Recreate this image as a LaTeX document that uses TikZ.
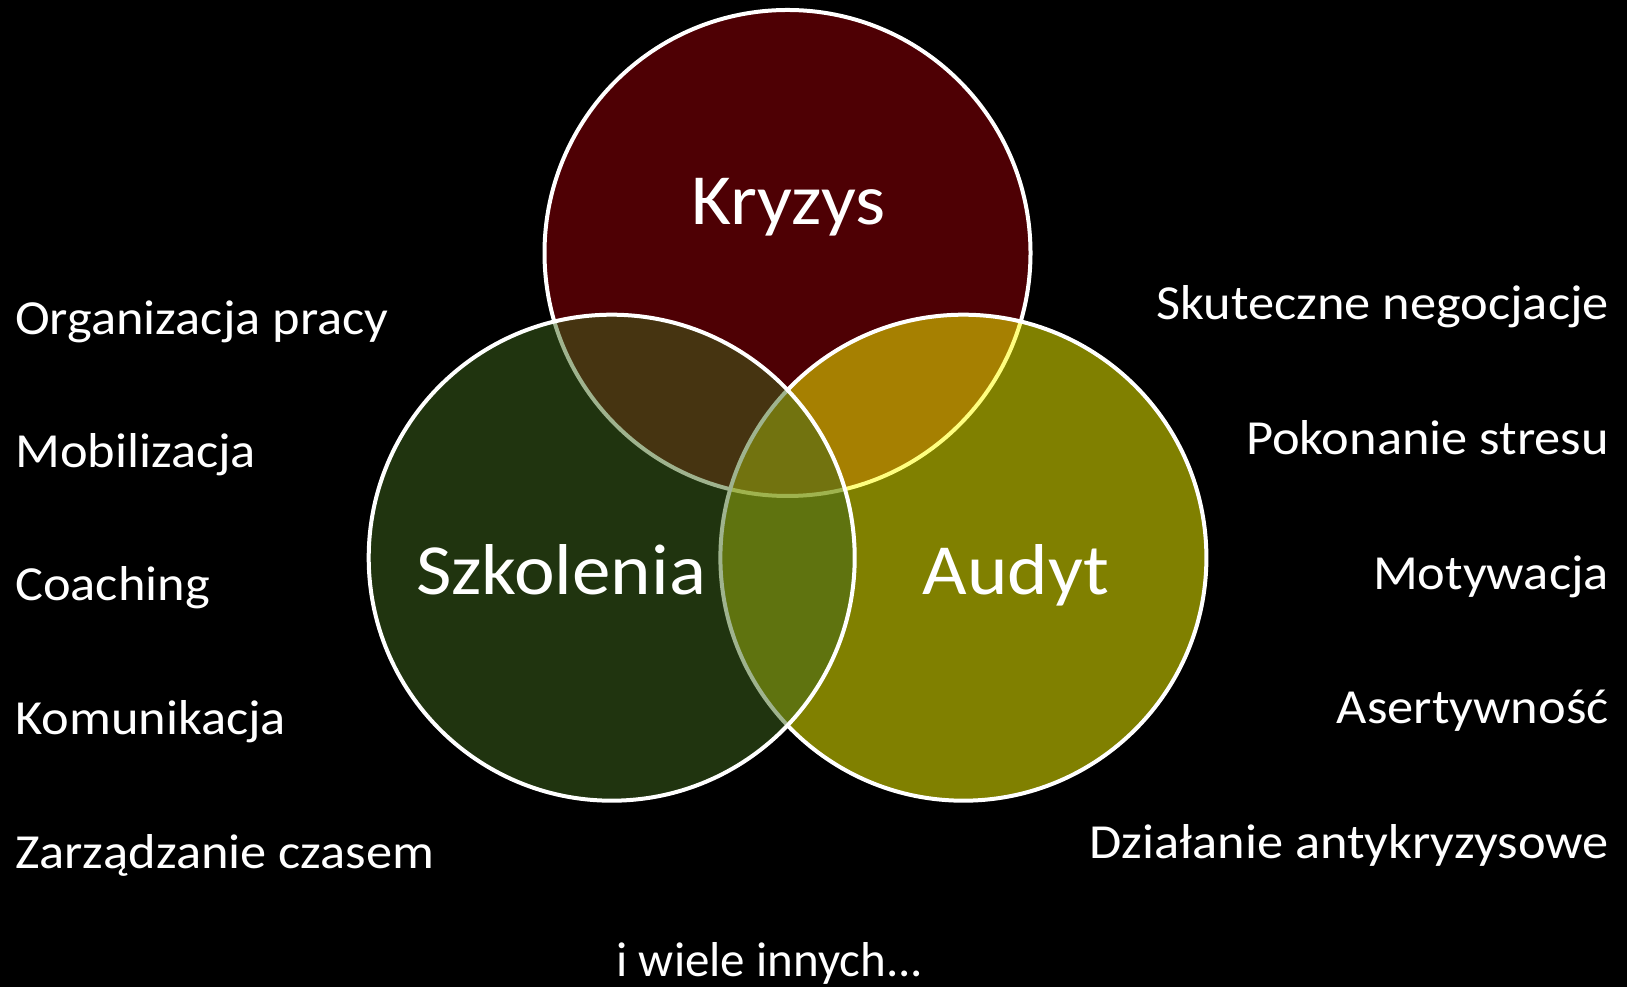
\documentclass[tikz,border=0pt]{standalone}
\usepackage{fontspec}
\setmainfont{Carlito}[FakeStretch=1.07]
\newfontfamily\plainfont{Carlito}
\definecolor{kryzysc}{RGB}{78,0,4}
\definecolor{audytc}{RGB}{255,255,0}
\definecolor{szkolc}{RGB}{64,104,30}
\begin{document}
\begin{tikzpicture}[x=1pt,y=1pt,
  venn/.style={circle, inner sep=0pt, minimum size=486pt, draw=white, line width=4pt},
  biglabel/.style={text=white, font=\fontsize{72}{80}\selectfont, anchor=base, inner sep=0pt},
  leftitem/.style={text=white, font=\fontsize{49}{58}\selectfont, anchor=base west, inner sep=0pt},
  rightitem/.style={text=white, font=\fontsize{49}{58}\selectfont, anchor=base east, inner sep=0pt}]
\fill[black] (0,0) rectangle (1627,987);
\useasboundingbox (0,0) rectangle (1627,987);
% circles: Kryzys, then Audyt, then Szkolenia on top
\node[venn, fill=kryzysc] (kryzys) at (787.5,734) {};
\node[venn, fill=audytc, fill opacity=0.5] (audyt) at (963.4,429.3) {};
\node[venn, fill=szkolc, fill opacity=0.5] (szkolenia) at (611.7,429.3) {};
% circle labels
\node[biglabel] (lk) at (788.5,762) {Kryzys};
\node[biglabel] (ls) at (561,392) {Szkolenia};
\node[biglabel] (la) at (1016,392) {Audyt};
% left list
\node[leftitem] (l1) at (15,652) {Organizacja pracy};
\node[leftitem] (l2) at (15,519) {Mobilizacja};
\node[leftitem] (l3) at (15,386) {Coaching};
\node[leftitem] (l4) at (15,252) {Komunikacja};
\node[leftitem] (l5) at (15,118) {Zarządzanie czasem};
% right list
\node[rightitem] (r1) at (1609,667) {Skuteczne negocjacje};
\node[rightitem] (r2) at (1609,532) {Pokonanie stresu};
\node[rightitem] (r3) at (1609,397) {Motywacja};
\node[rightitem] (r4) at (1609,263) {Asertywność};
\node[rightitem] (r5) at (1609,128) {Działanie antykryzysowe};
% bottom
\node[text=white, font=\plainfont\fontsize{49}{58}\selectfont, anchor=base, inner sep=0pt] (more) at (770,10) {i wiele innych...};
\end{tikzpicture}
\end{document}
